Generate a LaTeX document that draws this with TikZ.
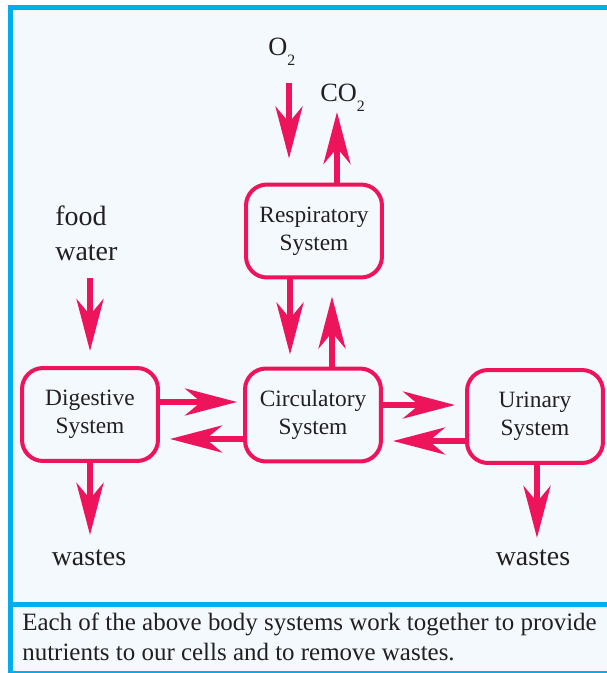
\documentclass[tikz,border=0pt]{standalone}
\usepackage{fontspec}
\setmainfont{Liberation Serif}
\usetikzlibrary{arrows.meta}

\definecolor{sysred}{RGB}{237,20,91}
\definecolor{framecyan}{RGB}{0,174,239}
\definecolor{paleblue}{RGB}{244,249,253}
\definecolor{inkgray}{RGB}{35,31,32}

\begin{document}
\begin{tikzpicture}[x=0.02cm,y=-0.02cm,
	sysbox/.style={draw=sysred,line width=0.08cm,rounded corners=0.42cm,fill=paleblue,
		minimum width=2.72cm,minimum height=1.86cm,align=center,inner sep=0pt,
		text=inkgray,font=\fontsize{13.3}{16}\selectfont},
	bigarrow/.style={draw=sysred,line width=0.12cm,
		-{Stealth[length=1.04cm,width=0.54cm,inset=0.32cm,fill=sysred]}},
	lbl/.style={inner sep=0pt,text=inkgray,font=\fontsize{15.9}{19.8}\selectfont},
	chem/.style={inner sep=0pt,text=inkgray,font=\fontsize{15}{18}\selectfont}]
	\useasboundingbox (0,0) rectangle (606,673);
	% frame and caption panel
	\fill[paleblue] (10.5,7.5) rectangle (620,671);
	\draw[framecyan,line width=0.1cm] (620,7.5) -- (10.5,7.5) -- (10.5,673);
	\draw[framecyan,line width=0.1cm] (10.5,604) -- (620,604);
	\draw[framecyan,line width=0.04cm] (10.5,671.5) -- (620,671.5);
	% body systems
	\node[sysbox] (resp) at (314,231) {Respiratory\\System};
	\node[sysbox] (circ) at (313,415) {Circulatory\\System};
	\node[sysbox] (dig) at (90,414.5) {Digestive\\System};
	\node[sysbox] (uri) at (535,416.5) {Urinary\\System};
	% labels
	\node[chem,anchor=base west] (otwo) at (268,55) {O\raisebox{-5.7pt}{\fontsize{9}{10}\selectfont 2}};
	\node[chem,anchor=base west] (cotwo) at (320,101) {CO\raisebox{-5.7pt}{\fontsize{9}{10}\selectfont 2}};
	\node[lbl,anchor=base west,align=left] (food) at (55,260) {food\\water};
	\node[lbl,anchor=base] (wasteD) at (89,565) {wastes};
	\node[lbl,anchor=base] (wasteU) at (533,565) {wastes};
	\node[inner sep=0pt,anchor=base west,align=left,text=inkgray,
		font=\fontsize{14.2}{17}\selectfont] (note) at (22,660)
		{Each of the above body systems work together to provide\\nutrients to our cells and to remove wastes.};
	\coordinate (otop) at (289,83);
	\coordinate (ctop) at (337,112);
	\coordinate (ftop) at (90,278);
	% arrows
	\draw[bigarrow,shorten >=0.48cm] (otop) -- (otop |- resp.north);
	\draw[bigarrow] (ctop |- resp.north) -- (ctop);
	\draw[bigarrow,shorten >=0.24cm] ([xshift=-0.48cm]resp.south) -- ([xshift=-0.48cm]resp.south |- circ.north);
	\draw[bigarrow,shorten >=0.34cm] ([xshift=0.38cm]circ.north) -- ([xshift=0.38cm]circ.north |- resp.south);
	\draw[bigarrow,shorten >=0.3cm] (ftop) -- (ftop |- dig.north);
	\draw[bigarrow,shorten >=0.12cm] ([yshift=0.25cm]dig.east) -- ([yshift=0.25cm]dig.east -| circ.west);
	\draw[bigarrow,shorten >=0.2cm] ([yshift=-0.48cm]circ.west) -- ([yshift=-0.48cm]circ.west -| dig.east);
	\draw[bigarrow,shorten >=0.2cm] ([yshift=0.2cm]circ.east) -- ([yshift=0.2cm]circ.east -| uri.west);
	\draw[bigarrow,shorten >=0.2cm] ([yshift=-0.49cm]uri.west) -- ([yshift=-0.49cm]uri.west -| circ.east);
	\draw[bigarrow,shorten >=0.28cm] (dig.south) -- (dig.south |- wasteD.north);
	\draw[bigarrow,shorten >=0.22cm] ([xshift=0.04cm]uri.south) -- ([xshift=0.04cm]uri.south |- wasteU.north);
\end{tikzpicture}
\end{document}
